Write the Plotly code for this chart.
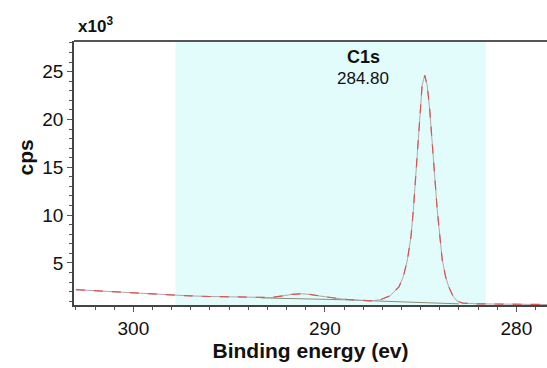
import plotly.graph_objects as go

# Binding energy (eV) and counts (x10^3 cps)
energy = [303.0, 302.0, 301.0, 300.3, 299.0, 298.0, 297.0, 296.0, 295.0, 294.0,
          293.3, 292.8, 292.2, 291.7, 291.25, 290.8, 290.3, 289.7, 289.2, 288.65,
          288.0, 287.6, 287.1, 286.6, 286.13, 285.9, 285.69, 285.5, 285.38, 285.21,
          285.04, 284.92, 284.78, 284.65, 284.52, 284.34, 284.13, 283.87, 283.7, 283.53,
          283.3, 283.09, 282.8, 282.0, 281.0, 280.0, 279.0, 278.4]
cps = [2.2, 2.08, 1.97, 1.88, 1.76, 1.62, 1.55, 1.49, 1.44, 1.40,
       1.34, 1.38, 1.55, 1.72, 1.77, 1.72, 1.55, 1.35, 1.25, 1.15,
       1.07, 1.04, 1.15, 1.55, 2.5, 3.6, 5.3, 7.8, 10.5, 15.7,
       20.9, 23.6, 24.6, 23.5, 20.9, 15.7, 10.5, 5.3, 3.6, 2.5,
       1.5, 1.0, 0.8, 0.72, 0.7, 0.68, 0.66, 0.65]

bg_energy = [293.3, 292.0, 291.0, 290.0, 289.0, 288.0, 287.0, 286.0, 285.0, 284.0, 283.3, 283.0]
bg_cps = [1.34, 1.30, 1.27, 1.23, 1.15, 1.07, 1.00, 0.95, 0.90, 0.82, 0.75, 0.72]

region = [297.8, 281.6]
x_ticks = [300, 290, 280]
y_ticks = [5, 10, 15, 20, 25]
peak_label = "C1s"
peak_pos = "284.80"

FONT = "Liberation Sans, Arial, sans-serif"

fig = go.Figure()
fig.add_shape(type="rect", xref="x", yref="paper", x0=region[0], x1=region[1],
              y0=0, y1=1, fillcolor="#e2fcfc", line_width=0, layer="below")

fig.add_trace(go.Scatter(x=bg_energy, y=bg_cps, mode="lines",
                         line=dict(color="#8c8c74", width=1), hoverinfo="skip"))
fig.add_trace(go.Scatter(x=energy, y=cps, mode="lines",
                         line=dict(color="#b0a8a8", width=1), hoverinfo="skip"))
fig.add_trace(go.Scatter(x=energy, y=cps, mode="lines",
                         line=dict(color="#d9534f", width=1.2, dash="dash"), hoverinfo="skip"))

# top frame line
fig.add_shape(type="line", xref="paper", yref="paper", x0=0, x1=1, y0=1, y1=1,
              line=dict(color="#555555", width=2))

fig.add_annotation(x=288.0, y=26.5, xref="x", yref="y", text="<b>%s</b>" % peak_label,
                   showarrow=False, font=dict(family=FONT, size=18, color="#111"))
fig.add_annotation(x=288.0, y=24.3, xref="x", yref="y", text=peak_pos,
                   showarrow=False, font=dict(family=FONT, size=17, color="#111"))
fig.add_annotation(x=0, y=1, xref="paper", yref="paper", xanchor="left", yanchor="bottom",
                   xshift=2, yshift=3,
                   text="<b>x10<sup>3</sup></b>", showarrow=False,
                   font=dict(family=FONT, size=17, color="#111"))
fig.add_annotation(x=0, y=0.559, xref="paper", yref="paper", xanchor="center", yanchor="middle",
                   xshift=-49, textangle=-90, text="<b>cps</b>", showarrow=False,
                   font=dict(family=FONT, size=21, color="#111"))

fig.update_layout(
    width=547, height=368,
    margin=dict(l=74, r=0, t=41, b=63, autoexpand=False),
    paper_bgcolor="white", plot_bgcolor="white",
    showlegend=False,
    font=dict(family=FONT, color="#111"),
)
fig.update_xaxes(
    range=[303.1, 278.4], tickvals=x_ticks, ticks="outside", ticklen=5,
    tickcolor="#555", showline=True, linecolor="#444", linewidth=1.5,
    showgrid=False, zeroline=False, automargin=False,
    minor=dict(dtick=1, ticks="outside", ticklen=3, tickcolor="#555"),
    tickfont=dict(family=FONT, size=19, color="#111"),
    title=dict(text="<b>Binding energy (ev)</b>", font=dict(family=FONT, size=21, color="#111"),
               standoff=4),
)
fig.update_yaxes(
    range=[0.6, 28.2], tickvals=y_ticks, ticks="outside", ticklen=5,
    tickcolor="#555", showline=True, linecolor="#444", linewidth=1.5,
    showgrid=False, zeroline=False, automargin=False,
    minor=dict(dtick=1, ticks="outside", ticklen=3, tickcolor="#555"),
    tickfont=dict(family=FONT, size=19, color="#111"),
)

fig.write_html("out.html", config={"displayModeBar": False},
               post_script="document.body.style.margin='0';document.body.style.overflow='hidden';")
